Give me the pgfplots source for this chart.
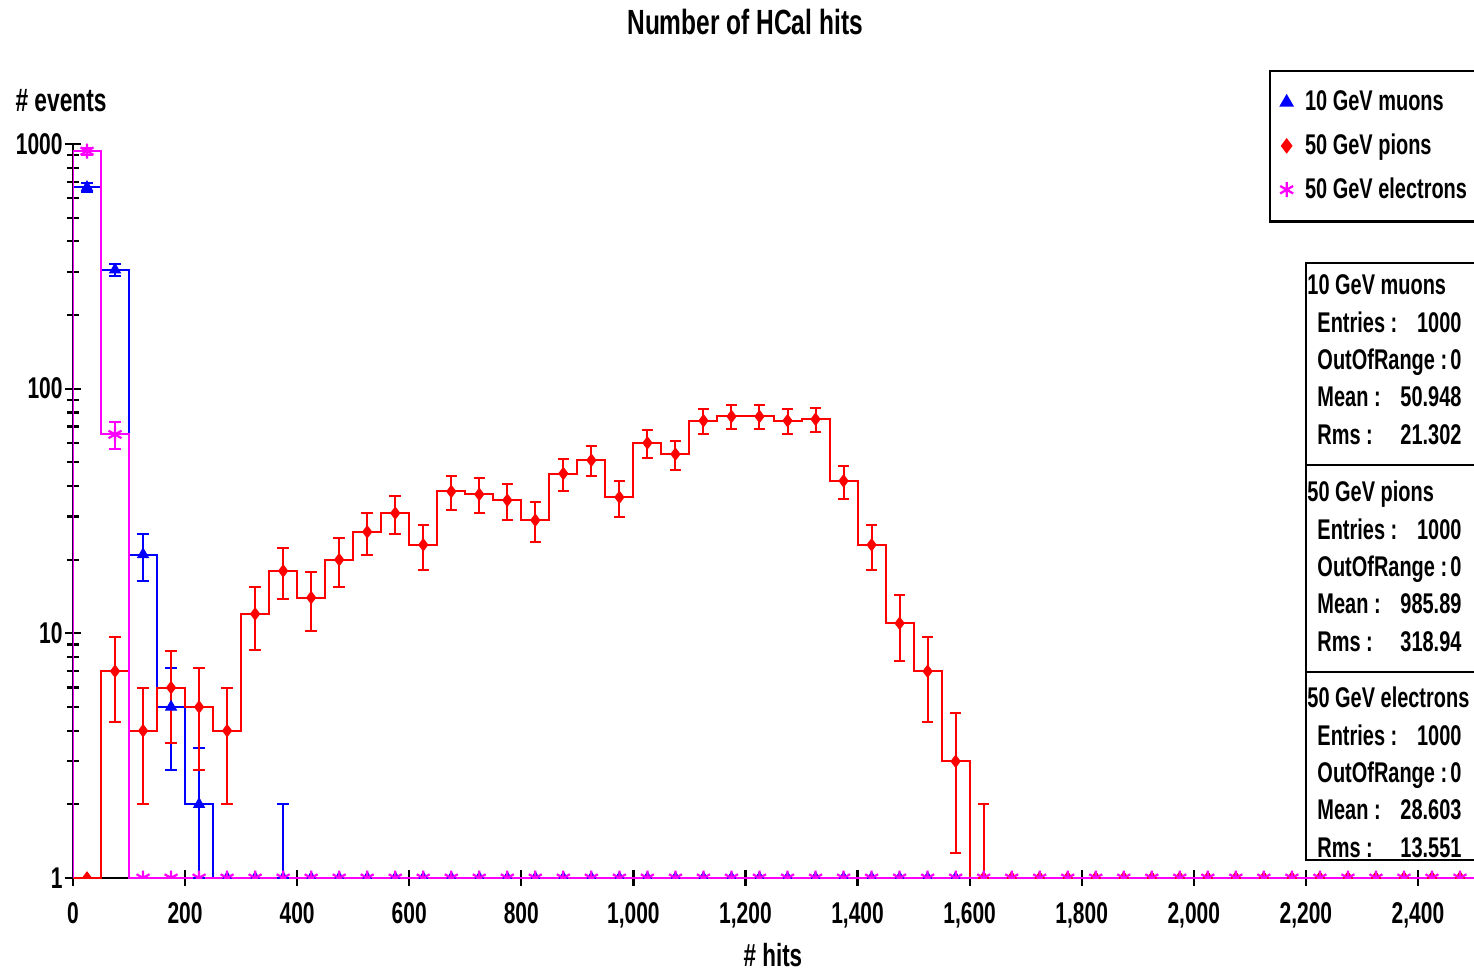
\documentclass[border=0pt]{standalone}
\usepackage{fontspec}
\setmainfont{Liberation Sans}[FakeStretch=0.7]
\usepackage{pgfplots}
\usepackage{pgfplotstable}
\pgfplotsset{compat=1.18}

\definecolor{mu}{RGB}{0,0,255}
\definecolor{pi}{RGB}{255,0,0}
\definecolor{el}{RGB}{255,0,255}

% bin low edge, counts per 50-hit bin (first row: empty underflow bin)
\pgfplotstableread{
lo   mu   pi   el
-50  0    0    0
0    665  0    935
50   306  7    65
100  21   4    0
150  5    6    0
200  2    5    0
250  0    4    0
300  0    12   0
350  1    18   0
400  0    14   0
450  0    20   0
500  0    26   0
550  0    31   0
600  0    23   0
650  0    38   0
700  0    37   0
750  0    35   0
800  0    29   0
850  0    45   0
900  0    51   0
950  0    36   0
1000 0    60   0
1050 0    54   0
1100 0    74   0
1150 0    77   0
1200 0    77   0
1250 0    74   0
1300 0    75   0
1350 0    42   0
1400 0    23   0
1450 0    11   0
1500 0    7    0
1550 0    3    0
1600 0    1    0
1650 0    0    0
1700 0    0    0
1750 0    0    0
1800 0    0    0
1850 0    0    0
1900 0    0    0
1950 0    0    0
2000 0    0    0
2050 0    0    0
2100 0    0    0
2150 0    0    0
2200 0    0    0
2250 0    0    0
2300 0    0    0
2350 0    0    0
2400 0    0    0
2450 0    0    0
}\hits

\newcommand{\fs}[1]{\fontsize{#1}{#1}\selectfont\bfseries}

\begin{document}
\begin{tikzpicture}
\path[use as bounding box] (0,0) rectangle (589.6pt,388.8pt);
\begin{axis}[
  at={(29.2pt,37.6pt)}, anchor=south west,
  scale only axis, width=560.4pt, height=293.6pt,
  xmin=0, xmax=2500, ymode=log, ymin=1, ymax=1000,
  clip marker paths=true,
  axis x line*=bottom, axis y line*=left,
  axis line style={-, line width=1pt},
  xtick={0,200,...,2400},
  ytick={1,10,100,1000}, yticklabels={1,10,100,1000},
  tick align=center, major tick length=6.5pt, minor tick length=4.8pt,
  every tick/.style={black, line width=0.9pt},
  tick label style={font=\fs{12}},
  x tick label style={/pgf/number format/.cd, 1000 sep={,}, assume math mode=true},
  xticklabel shift=3pt, yticklabel shift=-2.6pt,
  title={Number of HCal hits},
  every axis title/.style={at={(rel axis cs:0.4797,1.166)}, anchor=center, font=\fs{14}},
  xlabel={\# hits},
  every axis x label/.style={at={(rel axis cs:0.4996,-0.105)}, anchor=center, font=\fs{12.8}},
  ylabel={\# events},
  every axis y label/.style={at={(rel axis cs:-0.0414,1.0586)}, anchor=west, inner sep=0pt, font=\fs{13}},
  legend style={at={(rel axis cs:0.8537,1.101)}, anchor=north west,
    draw=black, line width=0.9pt, font=\fs{11.4}, inner xsep=4pt, inner ysep=5.8pt,
    row sep=3.8pt, column sep=2.8pt},
  legend cell align=left,
  hstep/.style={const plot mark right, line width=0.8pt, no marks, forget plot},
  errs/.style={only marks, mark=text, text mark={}, forget plot,
    error bars/.cd, y dir=both, y explicit,
    error bar style={line width=0.8pt},
    error mark options={rotate=90, mark size=2.3pt, line width=0.8pt},
    /pgfplots/.cd},
  pts/.style={only marks, restrict x to domain=0:2500},
]
% step outlines (x = upper bin edge)
\addplot[hstep, mu] table[x expr={\thisrow{lo}+50}, y expr={max(\thisrow{mu},1)}] {\hits};
\addplot[hstep, pi] table[x expr={\thisrow{lo}+50}, y expr={max(\thisrow{pi},1)}] {\hits};
\addplot[hstep, el] table[x expr={\thisrow{lo}+50}, y expr={max(\thisrow{el},1)}] {\hits};
% sqrt(N) error bars, empty bins drop out on the log axis
\addplot[errs, mu] table[x expr={\thisrow{lo}+25}, y=mu,
        y error plus expr={sqrt(\thisrow{mu})},
        y error minus expr={max(min(sqrt(\thisrow{mu}),\thisrow{mu}-1),0)}] {\hits};
\addplot[errs, pi] table[x expr={\thisrow{lo}+25}, y=pi,
        y error plus expr={sqrt(\thisrow{pi})},
        y error minus expr={max(min(sqrt(\thisrow{pi}),\thisrow{pi}-1),0)}] {\hits};
\addplot[errs, el] table[x expr={\thisrow{lo}+25}, y=el,
        y error plus expr={sqrt(\thisrow{el})},
        y error minus expr={max(min(sqrt(\thisrow{el}),\thisrow{el}-1),0)}] {\hits};
% bin centres
\addplot[pts, mu, mark=triangle*, mark size=2.5pt, mark options={mu}]
  table[x expr={\thisrow{lo}+25}, y expr={max(\thisrow{mu},1)}] {\hits};
\addlegendentry{10 GeV muons}
\addplot[pts, pi, mark=diamond*, mark size=2.4pt, mark options={pi}]
  table[x expr={\thisrow{lo}+25}, y expr={max(\thisrow{pi},1)}] {\hits};
\addlegendentry{50 GeV pions}
\addplot[pts, el, mark=asterisk, mark size=3pt, mark options={el, line width=0.9pt}]
  table[x expr={\thisrow{lo}+25}, y expr={max(\thisrow{el},1)}] {\hits};
\addlegendentry{50 GeV electrons\hspace*{8pt}}
\end{axis}

% statistics boxes, positions in reference pixels
\begin{scope}[x=0.4pt, y=-0.4pt, shift={(0,388.8pt)}]
  \draw[line width=0.9pt] (1306,263) rectangle (1480,860);
  \draw[line width=0.9pt] (1306,465) -- (1480,465);
  \draw[line width=0.9pt] (1306,672) -- (1480,672);
  \foreach \top/\name/\mean/\rms in {295/10 GeV muons/50.948/21.302,
                                      502/50 GeV pions/985.89/318.94,
                                      708/50 GeV electrons/28.603/13.551}{
    \begin{scope}[every node/.style={inner sep=0pt, font=\fs{11.4}}]
    \node[anchor=base west] at (1307,\top) {\name};
    \node[anchor=base west] at (1317,\top+37.3) {Entries :};
    \node[anchor=base east] at (1462,\top+37.3) {1000};
    \node[anchor=base west] at (1317,\top+74.6) {OutOfRange :};
    \node[anchor=base east] at (1462,\top+74.6) {0};
    \node[anchor=base west] at (1317,\top+112) {Mean :};
    \node[anchor=base east] at (1462,\top+112) {\mean};
    \node[anchor=base west] at (1317,\top+149.3) {Rms :};
    \node[anchor=base east] at (1462,\top+149.3) {\rms};
    \end{scope}
  }
\end{scope}
\end{tikzpicture}
\end{document}
